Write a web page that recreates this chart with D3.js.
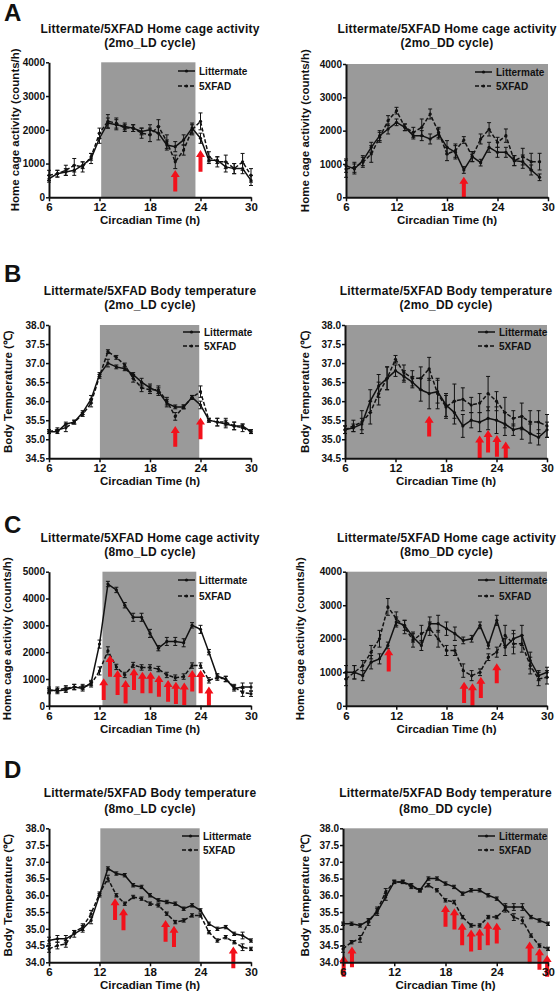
<!DOCTYPE html>
<html><head><meta charset="utf-8">
<script src="https://cdn.jsdelivr.net/npm/d3@7"></script>
<style>
body{margin:0;background:#fff;}
svg text{font-family:"Liberation Sans",Arial,Helvetica,sans-serif;font-weight:bold;fill:#111;}
</style></head><body>
<svg id="fig" width="558" height="992"></svg>
<script>
// ---------- DATA ----------
const hours   = [6,7,8,9,10,11,12,13,14,15,16,17,18,19,20,21,22,23,24,25,26,27,28,29,30];
const hoursDD2 = [6,7,8,9,10,11,12,13,14,15,16,17,18,19,20,21,22,23,24,25,26,27,28,29];
const seriesNames = ["Littermate", "5XFAD"];
const xTicks = [6,12,18,24,30];
const actTicks4 = [0,1000,2000,3000,4000];
const actTicks5 = [0,1000,2000,3000,4000,5000];
const tempTicksB = [34.5,35.0,35.5,36.0,36.5,37.0,37.5,38.0];
const tempTicksD = [34.0,34.5,35.0,35.5,36.0,36.5,37.0,37.5,38.0];

// A: 2mo LD home cage activity
const a2LD_litter = [550,700,750,800,950,1150,1750,2200,2150,2100,2050,1950,2000,1900,1550,1500,1700,2050,1750,1100,1100,900,850,850,500];
const a2LD_litterErr = [100,100,100,150,100,150,150,150,150,100,100,100,150,200,150,150,150,150,150,100,100,150,150,150,150];
const a2LD_fad = [650,700,800,950,900,1200,1900,2250,2200,2050,2050,1900,1850,2100,1650,1050,1400,2000,2250,1200,1050,1050,850,1050,650];
const a2LD_fadErr = [150,100,150,200,150,100,150,200,150,100,100,150,200,200,200,200,150,150,250,150,150,200,150,250,200];
// A: 2mo DD home cage activity
const a2DD_litter = [950,850,1100,1500,1850,2050,2250,2100,1850,1850,1750,1900,1500,1350,820,1220,1040,1500,1350,1350,1100,1070,820,600];
const a2DD_litterErr = [200,150,150,150,150,150,100,100,100,150,150,150,200,200,100,150,100,150,150,150,150,200,150,100];
const a2DD_fad = [850,900,1050,1300,1800,2300,2600,2100,1950,2100,2500,1950,1300,1400,1720,1220,1750,2040,1650,1850,1100,1220,1070,1070];
const a2DD_fadErr = [250,150,150,250,150,150,100,100,150,250,150,150,200,200,100,150,150,200,150,200,150,250,250,250];
// B: 2mo LD body temperature
const t2LD_litter = [35.2,35.2,35.4,35.45,35.7,36.05,36.7,37.0,36.9,36.85,36.7,36.5,36.35,36.25,35.95,35.85,35.85,36.1,35.9,35.5,35.45,35.4,35.35,35.35,35.2];
const t2LD_litterErr = [0.05,0.05,0.05,0.05,0.05,0.1,0.05,0.1,0.05,0.05,0.05,0.1,0.1,0.1,0.1,0.05,0.05,0.05,0.1,0.05,0.1,0.1,0.1,0.05,0.05];
const t2LD_fad = [35.2,35.25,35.3,35.45,35.65,35.95,36.65,37.3,37.15,36.95,36.6,36.35,36.3,36.3,36.0,35.6,35.85,36.1,36.25,35.5,35.45,35.45,35.35,35.3,35.2];
const t2LD_fadErr = [0.05,0.05,0.1,0.05,0.05,0.1,0.05,0.05,0.05,0.05,0.1,0.1,0.1,0.1,0.1,0.1,0.05,0.05,0.15,0.05,0.1,0.1,0.1,0.1,0.05];
// B: 2mo DD body temperature
const t2DD_litter = [35.25,35.3,35.4,36.0,36.4,36.6,36.8,36.65,36.5,36.3,36.2,36.25,35.9,35.7,35.35,35.5,35.45,35.55,35.5,35.4,35.25,35.3,35.15,35.05,35.25];
const t2DD_litterErr = [0.1,0.1,0.15,0.3,0.3,0.3,0.15,0.15,0.15,0.3,0.4,0.3,0.3,0.3,0.3,0.2,0.25,0.3,0.35,0.3,0.15,0.3,0.25,0.2,0.2];
const t2DD_fad = [35.25,35.35,35.45,35.7,36.2,36.6,37.1,36.75,36.6,36.6,36.85,36.2,35.85,36.0,36.05,35.9,35.95,36.2,36.0,35.7,35.55,35.6,35.45,35.45,35.35];
const t2DD_fadErr = [0.1,0.15,0.3,0.3,0.3,0.3,0.1,0.2,0.2,0.3,0.3,0.4,0.3,0.45,0.3,0.2,0.25,0.45,0.25,0.4,0.2,0.35,0.3,0.3,0.3];
// C: 8mo LD home cage activity
const a8LD_litter = [600,550,600,700,650,850,2300,4540,4320,3750,3300,3300,2700,2150,2400,2400,2350,3000,2850,2000,1100,1000,650,700,700];
const a8LD_litterErr = [100,100,100,100,100,100,150,100,100,100,150,150,150,100,150,150,150,100,150,100,100,100,100,150,150];
const a8LD_fad = [550,600,650,700,700,800,1300,2050,1450,1150,1520,1430,1430,1370,1150,1050,1090,1500,1500,950,1050,1000,700,500,450];
const a8LD_fadErr = [100,100,100,100,100,100,150,150,100,100,100,100,100,100,100,100,100,100,100,100,100,100,100,150,100];
// C: 8mo DD home cage activity
const a8DD_litter = [1000,1000,900,1300,1400,1800,2500,2400,2050,1800,2450,2450,2300,2150,1950,2000,2400,1800,2550,1750,2000,2100,1350,900,1000];
const a8DD_litterErr = [200,200,150,200,150,100,150,150,150,150,200,250,200,200,100,100,100,100,150,250,250,300,250,150,150];
const a8DD_fad = [800,1000,1200,1600,2000,2950,2600,2350,1950,2150,2300,2000,1650,1650,1050,900,1000,1450,1600,2100,1850,1850,1200,800,850];
const a8DD_fadErr = [200,200,150,200,250,250,200,200,200,250,200,250,150,150,200,150,100,100,150,300,300,250,250,200,200];
// D: 8mo LD body temperature
const t8LD_litter = [34.65,34.7,34.7,34.85,35.0,35.25,36.0,36.8,36.65,36.6,36.3,36.25,36.0,35.85,35.8,35.75,35.6,35.7,35.55,35.15,35.0,35.05,34.85,34.8,34.65];
const t8LD_litterErr = [0.1,0.1,0.1,0.1,0.1,0.1,0.05,0.05,0.05,0.05,0.05,0.05,0.05,0.05,0.05,0.05,0.05,0.05,0.05,0.05,0.05,0.05,0.05,0.1,0.05];
const t8LD_fad = [34.4,34.5,34.55,34.9,35.05,35.45,36.05,36.5,36.0,35.75,35.95,35.9,35.75,35.7,35.45,35.2,35.25,35.4,35.4,34.9,34.65,34.75,34.6,34.45,34.4];
const t8LD_fadErr = [0.1,0.1,0.1,0.05,0.1,0.1,0.05,0.1,0.05,0.05,0.05,0.05,0.05,0.05,0.05,0.05,0.05,0.05,0.05,0.05,0.05,0.05,0.05,0.1,0.05];
// D: 8mo DD body temperature
const t8DD_litter = [35.15,35.15,35.1,35.25,35.5,35.95,36.4,36.4,36.3,36.15,36.5,36.5,36.35,36.25,36.05,36.15,36.15,36.0,35.9,35.65,35.65,35.65,35.35,35.25,35.15];
const t8DD_litterErr = [0.05,0.05,0.05,0.05,0.1,0.1,0.05,0.05,0.05,0.05,0.05,0.05,0.05,0.05,0.05,0.05,0.05,0.05,0.05,0.1,0.1,0.1,0.05,0.05,0.05];
const t8DD_fad = [34.4,34.6,34.7,35.2,35.55,36.1,36.4,36.4,36.25,36.15,36.3,36.15,35.85,35.8,35.35,35.1,35.1,35.35,35.35,35.6,35.35,35.25,34.8,34.5,34.4];
const t8DD_fadErr = [0.1,0.05,0.1,0.1,0.1,0.1,0.05,0.05,0.05,0.05,0.05,0.05,0.05,0.05,0.05,0.05,0.05,0.05,0.05,0.1,0.1,0.1,0.05,0.05,0.05];

// red significance arrows: [hour, tip value, tail value]
const arrA2LD = [[21,810,170],[24,1400,760]];
const arrA2DD = [[20,620,0]];
const arrT2LD = [[21,35.35,34.8],[24,35.57,35.0]];
const arrT2DD = [[16,35.62,35.07],[22,35.1,34.5],[23,35.24,34.65],[24.05,35.11,34.54],[25.1,34.94,34.5]];
const arrA8LD = [[12.5,1025,215],[13.25,1895,1085],[14.15,1335,400],[15.1,960,90],[16.1,1400,590],[17.1,1270,465],[18.07,1270,465],[19.06,1150,340],[20.15,960,155],[21.08,900,70],[22.07,865,30],[23.02,1335,530],[24.02,1335,465],[25,715,0]];
const arrA8DD = [[11.1,1720,1020],[20.1,720,80],[21.1,670,0],[22.1,870,230],[24,1270,670]];
const arrT8LD = [[13.85,35.91,35.26],[14.85,35.61,34.96],[19.85,35.26,34.61],[20.85,35.09,34.46],[27.9,34.47,33.82]];
const arrT8DD = [[6.08,34.22,33.57],[7.05,34.47,33.85],[18,35.71,35.06],[19.05,35.61,34.98],[19.95,35.18,34.51],[21,34.98,34.32],[22,35.01,34.37],[22.95,35.21,34.51],[24,35.18,34.56],[27.85,34.62,33.97],[29,34.42,33.78],[29.9,34.22,33.57]];

// dark-phase shading (hours)
const shadeA2LD = [12.2,23.4], shadeT2LD = [12.05,23.85], shadeA8LD = [12.35,23.5], shadeT8LD = [12.1,23.9];
const shadeDD = [6,30];

const titleAct = "Littermate/5XFAD Home cage activity";
const titleTemp = "Littermate/5XFAD Body temperature";
const yLabAct = "Home cage activity (counts/h)";
const yLabTemp = "Body Temperature (\u2103)";
const xLab = "Circadian Time (h)";

// ---------- LAYOUT ----------
const fmtInt = d3.format("d"), fmt1 = d3.format(".1f");
const panels = [
 {letter:"A", lp:[4,21], t:[titleAct,"(2mo_LD cycle)"], ty:[33,47], xr:[49,251], yr:[197.3,62.3], dom:[0,4000], ticks:actTicks4, fmt:fmtInt, shade:shadeA2LD, yl:yLabAct, ylx:15, lg:[178,71,86],
  x:hours, s1:a2LD_litter, e1:a2LD_litterErr, s2:a2LD_fad, e2:a2LD_fadErr, arr:arrA2LD},
 {t:[titleAct,"(2mo_DD cycle)"], ty:[33,47], xr:[346,548], yr:[197.3,64], dom:[0,4000], ticks:actTicks4, fmt:fmtInt, shade:shadeDD, yl:yLabAct, ylx:305, lg:[475,72,86],
  x:hoursDD2, s1:a2DD_litter, e1:a2DD_litterErr, s2:a2DD_fad, e2:a2DD_fadErr, arr:arrA2DD},
 {letter:"B", lp:[4,282], t:[titleTemp,"(2mo_LD cycle)"], ty:[295,309], xr:[49,251], yr:[458.3,325], dom:[34.5,38], ticks:tempTicksB, fmt:fmt1, shade:shadeT2LD, yl:yLabTemp, ylx:8, lg:[183,332,346],
  x:hours, s1:t2LD_litter, e1:t2LD_litterErr, s2:t2LD_fad, e2:t2LD_fadErr, arr:arrT2LD},
 {t:[titleTemp,"(2mo_DD cycle)"], ty:[295,309], xr:[345,547], yr:[458.3,325], dom:[34.5,38], ticks:tempTicksB, fmt:fmt1, shade:shadeDD, yl:yLabTemp, ylx:305, lg:[478,332,346],
  x:hours, s1:t2DD_litter, e1:t2DD_litterErr, s2:t2DD_fad, e2:t2DD_fadErr, arr:arrT2DD},
 {letter:"C", lp:[4,533], t:[titleAct,"(8mo_LD cycle)"], ty:[542,556], xr:[49,251], yr:[705.8,571.7], dom:[0,5000], ticks:actTicks5, fmt:fmtInt, shade:shadeA8LD, yl:yLabAct, ylx:7, lg:[178,580,596],
  x:hours, s1:a8LD_litter, e1:a8LD_litterErr, s2:a8LD_fad, e2:a8LD_fadErr, arr:arrA8LD},
 {t:[titleAct,"(8mo_DD cycle)"], ty:[542,556], xr:[346,547], yr:[705.8,571.7], dom:[0,4000], ticks:actTicks4, fmt:fmtInt, shade:shadeDD, yl:yLabAct, ylx:300, lg:[478,580,596],
  x:hours, s1:a8DD_litter, e1:a8DD_litterErr, s2:a8DD_fad, e2:a8DD_fadErr, arr:arrA8DD},
 {letter:"D", lp:[4,778], t:[titleTemp,"(8mo_LD cycle)"], ty:[797,813], xr:[49,251], yr:[962.3,828.3], dom:[34,38], ticks:tempTicksD, fmt:fmt1, shade:shadeT8LD, yl:yLabTemp, ylx:8, lg:[182,836,850],
  x:hours, s1:t8LD_litter, e1:t8LD_litterErr, s2:t8LD_fad, e2:t8LD_fadErr, arr:arrT8LD},
 {t:[titleTemp,"(8mo_DD cycle)"], ty:[797,813], xr:[343,548], yr:[962.3,828.3], dom:[34,38], ticks:tempTicksD, fmt:fmt1, shade:shadeDD, yl:yLabTemp, ylx:305, lg:[478,836,850],
  x:hours, s1:t8DD_litter, e1:t8DD_litterErr, s2:t8DD_fad, e2:t8DD_fadErr, arr:arrT8DD}
];

const svg = d3.select("#fig");
const INK = "#111", GRAY = "#9a9a9a", RED = "#f2111b";

panels.forEach(p => {
  const g = svg.append("g");
  const x = d3.scaleLinear().domain([6,30]).range(p.xr);
  const y = d3.scaleLinear().domain(p.dom).range(p.yr);
  const cx = (p.xr[0]+p.xr[1])/2;

  if (p.letter) g.append("text").attr("x",p.lp[0]).attr("y",p.lp[1]).attr("font-size",24).text(p.letter);
  p.t.forEach((s,i)=> g.append("text").attr("x",cx).attr("y",p.ty[i]).attr("text-anchor","middle")
      .attr("font-size",12).attr("letter-spacing",0.2).text(s));

  // shaded dark phase
  g.append("rect").attr("x",x(p.shade[0])).attr("y",y(p.dom[1]))
   .attr("width",x(p.shade[1])-x(p.shade[0])).attr("height",y(p.dom[0])-y(p.dom[1])).attr("fill",GRAY);

  // series
  const drawSeries = (vals, errs, dash) => {
    const pts = p.x.map((h,i)=>({h, v:vals[i], e:errs[i]}));
    g.append("path").datum(pts).attr("fill","none").attr("stroke",INK).attr("stroke-width",1.5)
      .attr("stroke-dasharray",dash?"4,2":null)
      .attr("d", d3.line().x(d=>x(d.h)).y(d=>y(d.v)));
    const eb = g.append("g").attr("stroke",INK).attr("stroke-width",1);
    pts.forEach(d=>{
      const X=x(d.h), y1=y(d.v+d.e), y2=y(d.v-d.e);
      eb.append("line").attr("x1",X).attr("x2",X).attr("y1",y1).attr("y2",y2);
      eb.append("line").attr("x1",X-2).attr("x2",X+2).attr("y1",y1).attr("y2",y1);
      eb.append("line").attr("x1",X-2).attr("x2",X+2).attr("y1",y2).attr("y2",y2);
    });
    g.append("g").selectAll("circle").data(pts).join("circle")
      .attr("cx",d=>x(d.h)).attr("cy",d=>y(d.v)).attr("r",1.6).attr("fill",INK);
  };
  drawSeries(p.s1, p.e1, false);
  drawSeries(p.s2, p.e2, true);

  // arrows
  p.arr.forEach(([h,tip,tail])=>{
    const X=x(h), yt=y(tip), yb=y(tail), hw=4.5, sw=2, hl=7;
    g.append("path").attr("fill",RED)
      .attr("d",`M${X},${yt}L${X+hw},${yt+hl}L${X+sw},${yt+hl}L${X+sw},${yb}L${X-sw},${yb}L${X-sw},${yt+hl}L${X-hw},${yt+hl}Z`);
  });

  // axes
  const ay = g.append("g").attr("transform",`translate(${p.xr[0]},0)`)
    .call(d3.axisLeft(y).tickValues(p.ticks).tickFormat(p.fmt).tickSize(3).tickSizeOuter(0).tickPadding(1));
  ay.select(".domain").attr("stroke",INK).attr("stroke-width",2);
  ay.selectAll(".tick line").attr("stroke",INK).attr("stroke-width",1.5);
  ay.selectAll(".tick text").attr("font-size",10).attr("font-family",null).attr("fill",INK);
  const ax = g.append("g").attr("transform",`translate(0,${p.yr[0]})`)
    .call(d3.axisBottom(x).tickValues(xTicks).tickFormat(fmtInt).tickSize(4).tickSizeOuter(0).tickPadding(2));
  ax.select(".domain").attr("stroke",INK).attr("stroke-width",2);
  ax.selectAll(".tick line").attr("stroke",INK).attr("stroke-width",1.5);
  ax.selectAll(".tick text").attr("font-size",11.5).attr("font-family",null).attr("fill",INK);
  ay.attr("font-family",null); ax.attr("font-family",null);

  g.append("text").attr("x",cx).attr("y",p.yr[0]+27).attr("text-anchor","middle").attr("font-size",11.5).text(xLab);
  g.append("text").attr("transform",`translate(${p.ylx},${(p.yr[0]+p.yr[1])/2}) rotate(-90)`)
    .attr("text-anchor","middle").attr("dominant-baseline","central").attr("font-size",11.5).text(p.yl);

  // legend
  const [lx, ly1, ly2] = p.lg;
  [[ly1,false,seriesNames[0]],[ly2,true,seriesNames[1]]].forEach(([ly,dash,name])=>{
    g.append("line").attr("x1",lx).attr("x2",lx+17).attr("y1",ly).attr("y2",ly)
      .attr("stroke",INK).attr("stroke-width",1.5).attr("stroke-dasharray",dash?"4,2":null);
    g.append("circle").attr("cx",lx+8.5).attr("cy",ly).attr("r",1.6).attr("fill",INK);
    g.append("text").attr("x",lx+21).attr("y",ly).attr("dominant-baseline","central").attr("font-size",10).text(name);
  });
});
</script>
</body></html>
